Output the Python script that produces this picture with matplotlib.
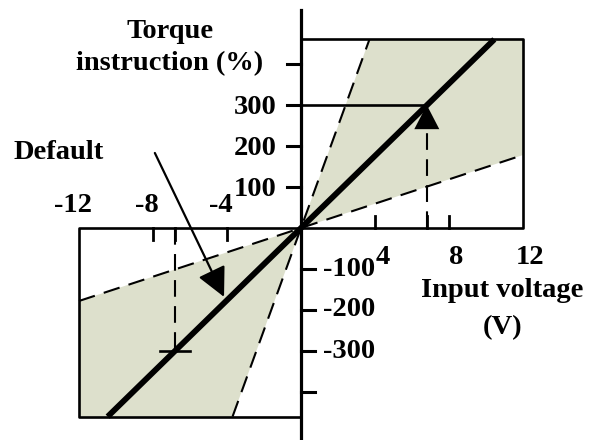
import matplotlib

matplotlib.use("Agg")
import matplotlib.pyplot as plt

# values (x: input voltage V, y: torque instruction %)
box_x = 12.0          # half-width of the plotted quadrant boxes
box_y = 460.0         # half-height of the plotted quadrant boxes
steep_x = 3.7         # max-gain line reaches box top here
shallow_y = 178.0     # min-gain line value at x = box_x
default_x_end = 10.45  # default line reaches box top here
ref_v = 6.8           # input voltage giving 300 %
ref_t = 300.0

y_ticks_up = [100, 200, 300, 400]
y_labels_up = ["100", "200", "300", ""]
y_ticks_dn = [-100, -200, -300, -400]
y_labels_dn = ["-100", "-200", "-300", ""]
x_ticks_r = [4, ref_v, 8]
x_labels_r = [("4", 4), ("8", 8), ("12", 12)]
x_ticks_l = [-4, -ref_v, -8]
x_labels_l = [("-4", -4), ("-8", -8), ("-12", -12)]

SHADE = "#dde0cc"
INK = "black"
FONT = dict(family="Liberation Serif", fontweight="bold", fontsize=20.5, color=INK)

PX_X = 18.5   # pixels per volt
PX_Y = 0.41   # pixels per percent
OX, OY = 301, 228

fig = plt.figure(figsize=(5.9, 4.4), dpi=100)
ax = fig.add_axes([0, 0, 1, 1])
ax.set_xlim(-OX / PX_X, (590 - OX) / PX_X)
ax.set_ylim(-(440 - OY) / PX_Y, OY / PX_Y)
ax.axis("off")

# shaded adjustable range
for s in (1, -1):
    ax.fill([0, s * steep_x, s * box_x, s * box_x],
            [0, s * box_y, s * box_y, s * shallow_y],
            color=SHADE, lw=0, zorder=1)

# limit (dashed) lines
dash = dict(color=INK, lw=1.5, dashes=(8, 4.5), zorder=3)
ax.plot([-steep_x, steep_x], [-box_y, box_y], **dash)
ax.plot([-box_x, box_x], [-shallow_y, shallow_y], **dash)

# quadrant boxes
box = dict(color=INK, lw=1.9, zorder=4, solid_capstyle="projecting")
ax.plot([0, box_x, box_x, -box_x, -box_x, 0], [box_y, box_y, 0, 0, -box_y, -box_y], **box)

# vertical axis
ax.plot([0, 0], [(OY - 10) / PX_Y, -(440 - OY) / PX_Y], color=INK, lw=2.3, zorder=5)

# default gain line
ax.plot([-default_x_end, default_x_end], [-box_y, box_y], color=INK, lw=4.2,
        zorder=6, solid_capstyle="butt")

# reference markers at 300 %
ax.plot([0, ref_v], [ref_t, ref_t], color=INK, lw=1.9, zorder=5)
head = 60
ax.plot([ref_v, ref_v], [0, ref_t - head], **dash)
ax.annotate("", xy=(ref_v, ref_t), xytext=(ref_v, ref_t - head),
            arrowprops=dict(arrowstyle="-|>,head_length=0.87,head_width=0.45",
                            mutation_scale=20, color=INK, lw=0,
                            shrinkA=0, shrinkB=0), zorder=7)
ax.plot([-ref_v, -ref_v], [0, -ref_t], **dash)
ax.plot([-ref_v - 0.8, -ref_v + 0.8], [-ref_t, -ref_t], color=INK, lw=1.9, zorder=5)

# ticks
tl_y = 14 / PX_X
tl_x = 12 / PX_Y
for t in y_ticks_up:
    ax.plot([-tl_y, 0], [t, t], color=INK, lw=2.2, zorder=5)
for t in y_ticks_dn:
    ax.plot([0, tl_y], [t, t], color=INK, lw=2.2, zorder=5)
for t in x_ticks_r:
    ax.plot([t, t], [0, tl_x], color=INK, lw=2.0, zorder=5)
for t in x_ticks_l:
    ax.plot([t, t], [0, -tl_x], color=INK, lw=2.0, zorder=5)

# tick labels
for t, lab in zip(y_ticks_up, y_labels_up):
    ax.text(-1.3, t - 5, lab, ha="right", va="center", **FONT)
for t, lab in zip(y_ticks_dn, y_labels_dn):
    ax.text(1.2, t, lab, ha="left", va="center", **FONT)
for lab, v in x_labels_r:
    ax.text(v + 0.4, -72, lab, ha="center", va="center", **FONT)
for lab, v in x_labels_l:
    ax.text(v - 0.35, 55, lab, ha="center", va="center", **FONT)

# axis titles
ax.text(-7.1, 440, "Torque\ninstruction (%)", ha="center", va="center",
        linespacing=1.35, **FONT)
ax.text(10.9, -153, "Input voltage", ha="center", va="center", **FONT)
ax.text(10.9, -243, "(V)", ha="center", va="center", **FONT)

# default annotation
ax.text(-13.1, 185, "Default", ha="center", va="center", **FONT)
ax.annotate("", xy=(-4.16, -168), xytext=(-7.9, 183),
            arrowprops=dict(arrowstyle="-|>,head_length=0.9,head_width=0.45",
                            mutation_scale=20, color=INK, lw=1.6,
                            shrinkA=0, shrinkB=0), zorder=7)

fig.savefig("out.png", dpi=100)
